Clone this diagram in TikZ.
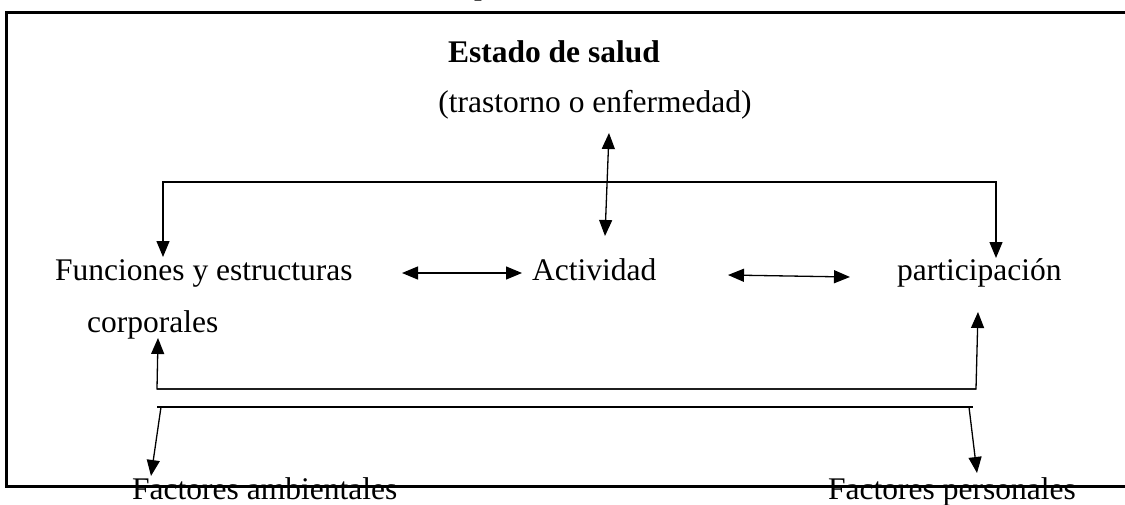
\documentclass[tikz,border=0pt]{standalone}
\usepackage{fontspec}
\setmainfont{Liberation Serif}
\usetikzlibrary{arrows.meta}
\begin{document}
\begin{tikzpicture}[x=1pt,y=-1pt,
  txt/.style={inner sep=0pt,anchor=base west,font=\fontsize{31.5}{36}\selectfont},
  conn/.style={line width=1.3pt},
  tip/.style={-{Triangle[width=13pt,length=16pt]}},
  both/.style={{Triangle[width=13pt,length=16pt]}-{Triangle[width=13pt,length=16pt]}}]
\useasboundingbox (0,0) rectangle (1125,504);
\clip (0,0) rectangle (1125,504);
% frame
\draw[line width=3pt] (1140,12) -- (6,12) -- (6,486) -- (1140,486);
% texts
\node[txt,anchor=base west] (frag) at (474,-6) {p};
\node[txt,anchor=base,font=\fontsize{31.5}{36}\selectfont\bfseries] (estado) at (554,62) {Estado de salud};
\node[txt,anchor=base] (trast) at (595,112) {(trastorno o enfermedad)};
\node[txt] (func) at (55,280) {Funciones y estructuras};
\node[txt] (corp) at (87,332) {corporales};
\node[txt] (act) at (532,280) {Actividad};
\node[txt] (part) at (897,280) {participación};
\node[txt] (amb) at (132,499) {Factores ambientales};
\node[txt] (pers) at (828,499) {Factores personales};
% coordinates
\coordinate (vt) at (609,133);
\coordinate (vb) at (605,236);
\coordinate (bl) at (163,182);
\coordinate (br) at (996,182);
\coordinate (blt) at (163,257);
\coordinate (brt) at (996,258);
\coordinate (a1l) at (402,273);
\coordinate (a1r) at (522,273);
\coordinate (a2l) at (728,275);
\coordinate (a2r) at (850,277);
\coordinate (l1a) at (157,389);
\coordinate (l1b) at (976,389);
\coordinate (l1at) at (158,338);
\coordinate (l1bt) at (978,312);
\coordinate (l2a) at (157,407);
\coordinate (l2b) at (973,407);
\coordinate (l2as) at (161,407);
\coordinate (l2bs) at (969,407);
\coordinate (l2at) at (151,476);
\coordinate (l2bt) at (977,473);
% connectors
\draw[conn,both] (vt) -- (vb);
\draw[conn,tip] (br) -- (bl) -- (blt);
\draw[conn,tip] (bl) -- (br) -- (brt);
\draw[conn,both] (a1l) -- (a1r);
\draw[conn,both] (a2l) -- (a2r);
\draw[conn,tip] (l1b) -- (l1a) -- (l1at);
\draw[conn,tip] (l1a) -- (l1b) -- (l1bt);
\draw[conn] (l2a) -- (l2b);
\draw[conn,tip] (l2as) -- (l2at);
\draw[conn,tip] (l2bs) -- (l2bt);
\end{tikzpicture}
\end{document}
